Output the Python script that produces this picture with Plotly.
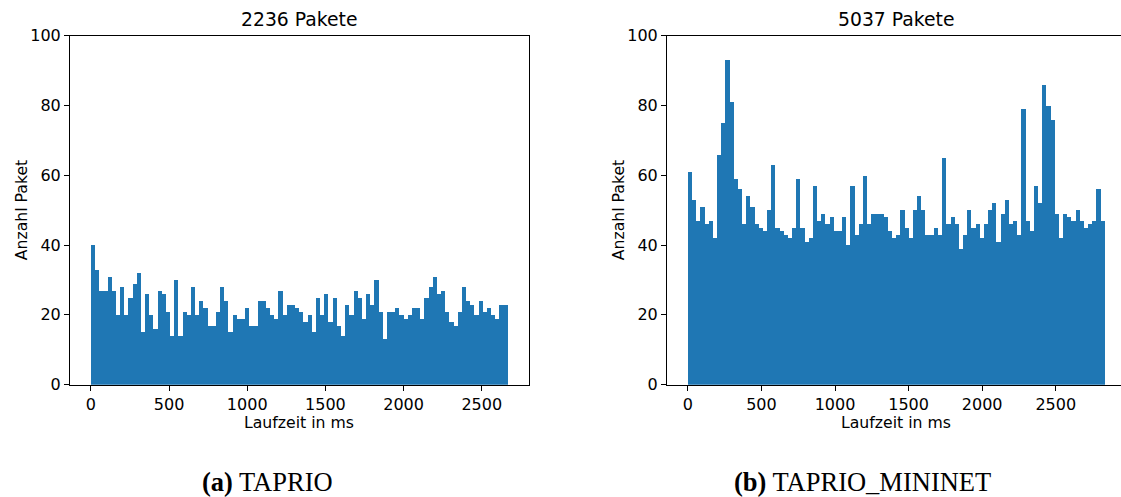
import numpy as np
import plotly.graph_objects as go

# Histogram counts per bin (100 bins each)
taprio_counts = [
    40, 33, 27, 27, 31, 27, 20, 28, 20, 25, 29, 32, 15, 26, 20, 16, 27, 26, 21, 14,
    30, 14, 21, 20, 28, 20, 24, 22, 17, 17, 21, 28, 24, 15, 20, 19, 19, 22, 17, 17,
    24, 24, 22, 20, 19, 27, 20, 23, 23, 22, 21, 18, 20, 15, 25, 20, 26, 18, 25, 17,
    14, 23, 20, 27, 25, 19, 26, 23, 30, 21, 13, 21, 21, 22, 20, 19, 20, 22, 22, 19,
    25, 28, 31, 26, 27, 21, 18, 17, 21, 28, 24, 23, 20, 24, 21, 22, 20, 19, 23, 23,
]
mininet_counts = [
    61, 53, 47, 51, 46, 47, 42, 66, 75, 93, 81, 59, 56, 46, 54, 51, 46, 45, 44, 50,
    63, 45, 44, 43, 42, 45, 59, 45, 41, 42, 57, 47, 49, 46, 48, 44, 44, 48, 40, 57,
    43, 46, 60, 46, 49, 49, 49, 48, 44, 42, 43, 50, 45, 42, 50, 54, 50, 43, 43, 45,
    43, 65, 46, 48, 46, 39, 43, 50, 45, 46, 42, 46, 50, 52, 41, 49, 53, 46, 47, 43,
    79, 47, 44, 57, 52, 86, 80, 76, 49, 42, 49, 48, 47, 50, 47, 45, 46, 47, 56, 47,
]
# Maximum runtime (ms) of each run: the histogram spans 0 .. max
taprio_max_ms = 2666
mininet_max_ms = 2833

x_ticks = [0, 500, 1000, 1500, 2000, 2500]
y_ticks = [0, 20, 40, 60, 80, 100]
titles = ["2236 Pakete", "5037 Pakete"]
captions = ["<b>(a)</b> TAPRIO", "<b>(b)</b> TAPRIO_MININET"]
x_label = "Laufzeit in ms"
y_label = "Anzahl Paket"

BAR_COLOR = "#1f77b4"
FONT = "DejaVu Sans"
W, H = 1121, 497
# vertical drawing band of the page (top offset, usable height)
V_OFF, V_H = 8, 481


def py(t):
    """Pixel row from the top -> paper y fraction."""
    return 1 - (t - V_OFF) / V_H


# Axes boxes in pixels (left, right); the second one runs past the page edge
boxes = [(70, 528.6), (667, 1125.6)]
top_px, bottom_px = 35, 386
y_dom = [py(bottom_px), py(top_px)]

fig = go.Figure()
annotations = []

for i, (counts, vmax) in enumerate([(taprio_counts, taprio_max_ms), (mininet_counts, mininet_max_ms)]):
    n = len(counts)
    edges = np.linspace(0, vmax, n + 1)
    centers = (edges[:-1] + edges[1:]) / 2
    bw = edges[1] - edges[0]
    xa = "x" if i == 0 else "x2"
    ya = "y" if i == 0 else "y2"
    fig.add_trace(go.Bar(
        x=centers, y=counts, width=bw,
        marker=dict(color=BAR_COLOR, line=dict(width=0)),
        xaxis=xa, yaxis=ya, showlegend=False, hoverinfo="x+y",
    ))
    left, right = boxes[i]
    # data range with 5% padding on both sides, clipped at the page edge
    lo, hi = -0.05 * vmax, 1.05 * vmax
    vis_right = min(right, W)
    hi_vis = lo + (hi - lo) * (vis_right - left) / (right - left)
    clipped = right > W

    axis_common = dict(
        showline=True, linecolor="black", linewidth=1,
        ticks="outside", ticklen=5, tickwidth=1, tickcolor="black",
        showgrid=False, zeroline=False,
        tickfont=dict(family=FONT, size=16, color="black"),
    )
    fig.layout["xaxis" if i == 0 else "xaxis2"] = dict(
        domain=[left / W, vis_right / W],
        range=[lo, hi_vis], mirror=True,
        tickvals=x_ticks, anchor=ya, **axis_common,
    )
    fig.layout["yaxis" if i == 0 else "yaxis2"] = dict(
        domain=y_dom, range=[0, 100], mirror=not clipped,
        tickvals=y_ticks, anchor=xa, **axis_common,
    )
    cx = (left + right) / 2 / W
    # subplot title
    annotations.append(dict(
        text=titles[i], x=cx, y=py(19), xref="paper", yref="paper",
        xanchor="center", yanchor="middle", showarrow=False,
        font=dict(family=FONT, size=18.8, color="black"),
    ))
    # x axis label
    annotations.append(dict(
        text=x_label, x=cx, y=py(424), xref="paper", yref="paper",
        xanchor="center", yanchor="middle", showarrow=False,
        font=dict(family=FONT, size=15.7, color="black"),
    ))
    # y axis label
    annotations.append(dict(
        text=y_label, x=(left - 49) / W, y=(y_dom[0] + y_dom[1]) / 2,
        xref="paper", yref="paper", xanchor="center", yanchor="middle",
        textangle=-90, showarrow=False,
        font=dict(family=FONT, size=15.7, color="black"),
    ))

# sub-figure captions
caption_x = [267, 862]
for cx_px, cap in zip(caption_x, captions):
    annotations.append(dict(
        text=cap, x=cx_px / W, y=py(484), xref="paper", yref="paper",
        xanchor="center", yanchor="middle", showarrow=False,
        font=dict(family="Liberation Serif", size=26.5, color="black"),
    ))

fig.update_layout(
    width=W, height=H,
    margin=dict(l=0, r=0, t=0, b=0),
    paper_bgcolor="white", plot_bgcolor="white",
    bargap=0, annotations=annotations,
)

fig.write_html("out.html")
